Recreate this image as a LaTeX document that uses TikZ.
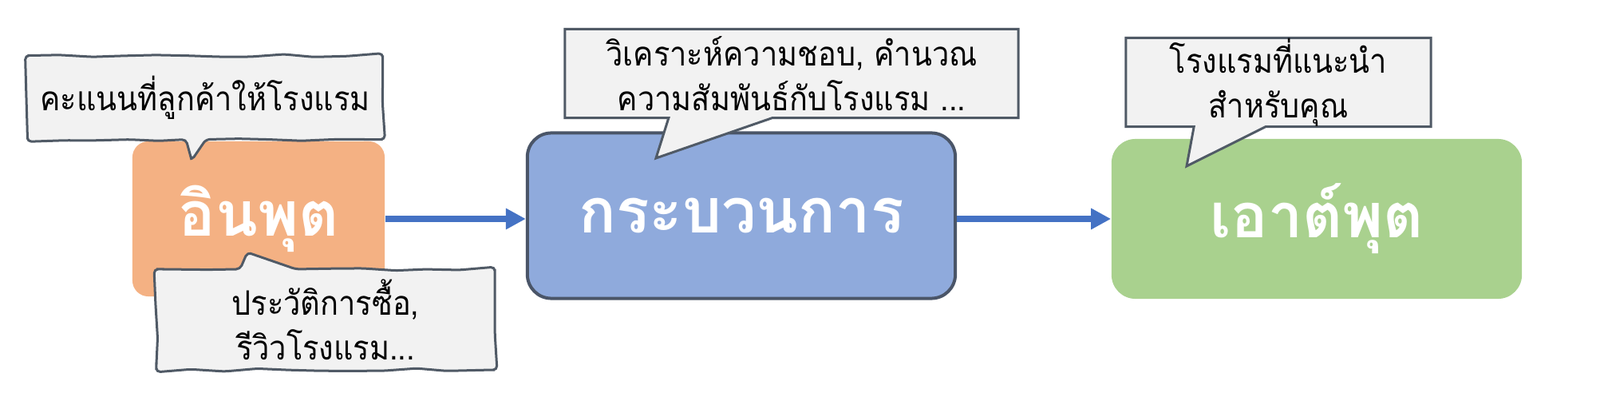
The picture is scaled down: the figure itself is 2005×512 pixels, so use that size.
\documentclass[tikz,border=0pt]{standalone}
\usepackage{fontspec}
\newfontfamily\thaifont[Script=Thai]{Loma}
\newfontfamily\thainote[Script=Thai, FakeStretch=0.9]{Loma}
\usetikzlibrary{arrows.meta,shapes.callouts,decorations.pathmorphing}
\definecolor{inorange}{HTML}{F4B183}
\definecolor{procblue}{HTML}{8FAADC}
\definecolor{procedge}{HTML}{4A5568}
\definecolor{outgreen}{HTML}{A9D18E}
\definecolor{notefill}{HTML}{F2F2F2}
\definecolor{notegray}{HTML}{505A66}
\definecolor{flowblue}{HTML}{4472C4}
\begin{document}
\begin{tikzpicture}[x=0.01cm, y=-0.01cm,
  stage/.style={rounded corners=0.2cm, inner sep=0pt, text=white,
    font=\thaifont\bfseries\fontsize{22}{26}\selectfont},
  note/.style={rectangle callout, draw=notegray, fill=notefill, line width=0.03cm,
    inner sep=0pt, align=center, font=\thainote\fontsize{12}{16}\selectfont},
  rough/.style={decorate, decoration={random steps, segment length=0.4cm, amplitude=0.02cm}},
  flow/.style={draw=flowblue, line width=0.08cm, -{Triangle[length=0.25cm, width=0.25cm]}}]
  \fill[white] (0,0) rectangle (2005,512);
  \useasboundingbox (0,0) rectangle (2005,512);
  % stages
  \node[stage, fill=inorange, minimum width=3.16cm, minimum height=1.94cm] (inbox) at (324,274) {อินพุต};
  \node[stage, fill=procblue, draw=procedge, line width=0.04cm, rounded corners=0.3cm,
    minimum width=5.36cm, minimum height=2.07cm] (procbox) at (929,270) {กระบวนการ};
  \node[stage, fill=outgreen, rounded corners=0.3cm, minimum width=5.14cm, minimum height=2cm] (outbox) at (1650,274) {เอาต์พุต};
  \draw[flow] (inbox.east) -- (inbox.east -| procbox.west);
  \draw[flow] (procbox.east |- outbox.west) -- (outbox.west);
  % notes
  \node[note, rough, rounded corners=0.05cm, callout absolute pointer={(240,200)}, callout pointer width=0.25cm,
    minimum width=4.45cm, minimum height=1.05cm] (intop) at (257,122) {คะแนนที่ลูกค้าให้โรงแรม};
  \node[note, rough, rounded corners=0.05cm, callout absolute pointer={(313,317)}, callout pointer width=0.7cm,
    minimum width=4.24cm, minimum height=1.26cm] (inbot) at (408,400) {ประวัติการซื้อ,\\รีวิวโรงแรม...};
  \node[note, callout absolute pointer={(822,198)}, callout pointer width=1.3cm,
    minimum width=5.68cm, minimum height=1.11cm] (proctop) at (992,92) {วิเคราะห์ความชอบ, คำนวณ\\ความสัมพันธ์กับโรงแรม ...};
  \node[note, callout absolute pointer={(1487,208)}, callout pointer width=0.9cm,
    minimum width=3.82cm, minimum height=1.11cm] (outtop) at (1602,103) {โรงแรมที่แนะนำ\\สำหรับคุณ};
\end{tikzpicture}
\end{document}
